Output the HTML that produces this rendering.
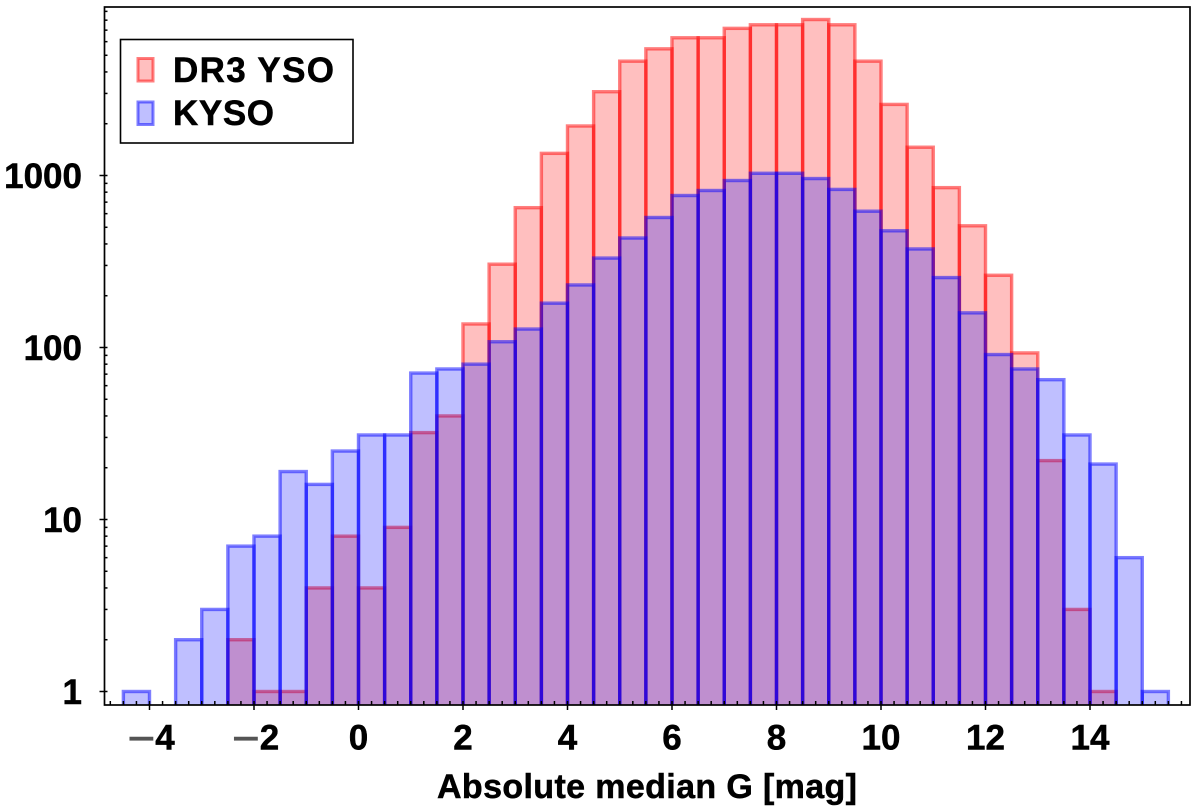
<!DOCTYPE html>
<html>
<head>
<meta charset="utf-8">
<title>Absolute median G histogram</title>
<style>
html,body{margin:0;padding:0;background:#fff;width:1200px;height:812px;overflow:hidden}
svg{display:block;filter:blur(0.35px)}
text{font-family:"Liberation Sans",sans-serif;font-weight:bold;fill:#000;stroke:#000;stroke-width:0.5px}
</style>
</head>
<body>
<svg id="chart" xmlns="http://www.w3.org/2000/svg" width="1200" height="812" viewBox="0 0 1200 812">
  <defs><clipPath id="plot-clip"><rect x="104.5" y="7" width="1085.5" height="698"/></clipPath></defs>
  <g id="bars" clip-path="url(#plot-clip)"></g>
  <g id="ticks"></g>
  <rect x="104.5" y="7" width="1085.5" height="698" fill="none" stroke="#000" stroke-width="1.7"/>
  <g id="tick-labels"></g>
  <text x="437" y="798" font-size="34" textLength="420" lengthAdjust="spacing">Absolute median G [mag]</text>
  <g>
    <rect x="120.5" y="39.5" width="232.5" height="103.5" fill="#fff" stroke="#000" stroke-width="1.6"/>
    <rect x="138" y="58.5" width="15" height="22.5" fill="#ff0000" fill-opacity="0.25" stroke="#ff0000" stroke-opacity="0.5" stroke-width="3"/>
    <text x="173" y="82" font-size="35" textLength="161" lengthAdjust="spacing">DR3 YSO</text>
    <rect x="138" y="102" width="15" height="22.5" fill="#0000ff" fill-opacity="0.25" stroke="#0000ff" stroke-opacity="0.5" stroke-width="3"/>
    <text x="173" y="125" font-size="35" textLength="101" lengthAdjust="spacing">KYSO</text>
  </g>
</svg>
<script>
var binStarts = [-4.5,-4,-3.5,-3,-2.5,-2,-1.5,-1,-0.5,0,0.5,1,1.5,2,2.5,3,3.5,4,4.5,5,5.5,6,6.5,7,7.5,8,8.5,9,9.5,10,10.5,11,11.5,12,12.5,13,13.5,14,14.5,15];
var binWidth = 0.5;
var dr3Yso = [0,0,0,0,2,1,1,4,8,4,9,32,40,137,305,650,1345,1940,3070,4620,5450,6320,6320,7170,7520,7520,8070,7520,4620,2590,1460,850,510,263,93,22,3,1,0,0];
var kyso = [1,0,2,3,7,8,19,16,25,31,31,71,75,80,108,128,181,231,331,433,570,765,818,935,1030,1030,960,830,620,477,374,255,159,91,75,65,31,21,6,1];
var xMajorTicks = [-4,-2,0,2,4,6,8,10,12,14];
var yMajorTicks = [1,10,100,1000];
var yMinorMultipliers = [2,3,4,5,6,7,8,9];

var NS = 'http://www.w3.org/2000/svg';
function xScale(v){ return 358.5 + v * 52.25; }
function yScale(v){ return 175.5 + (3 - Math.log10(v)) * 172; }
var AXIS_BOTTOM = 705, AXIS_LEFT = 104.5, AXIS_TOP = 7, AXIS_RIGHT = 1190;

function make(tag, attrs, parent){
  var el = document.createElementNS(NS, tag);
  for (var k in attrs) el.setAttribute(k, attrs[k]);
  parent.appendChild(el);
  return el;
}

var barsG = document.getElementById('bars');
function drawSeries(values, color, seriesName){
  values.forEach(function(v, i){
    if (!(v > 0)) return;
    var x0 = xScale(binStarts[i]), x1 = xScale(binStarts[i] + binWidth), y = yScale(v);
    var r = make('rect', {x:x0, y:y, width:x1 - x0, height:AXIS_BOTTOM + 6 - y, fill:color, 'fill-opacity':0.25, stroke:color, 'stroke-opacity':0.5, 'stroke-width':3.4}, barsG);
    
    
  });
}
drawSeries(dr3Yso, '#ff0000', 'dr3-yso');
drawSeries(kyso, '#0000ff', 'kyso');

var ticksG = document.getElementById('ticks');
var labelsG = document.getElementById('tick-labels');
function tick(x1, y1, x2, y2, name){
  var t = make('line', {x1:x1, y1:y1, x2:x2, y2:y2, stroke:'#000', 'stroke-width':1.5}, ticksG);
  
  
}
for (var q = -19; q <= 63; q++){
  var xv = q * 0.25;
  if (xMajorTicks.indexOf(xv) >= 0) continue;
  if (xScale(xv) <= AXIS_LEFT || xScale(xv) >= AXIS_RIGHT) continue;
  tick(xScale(xv), AXIS_BOTTOM, xScale(xv), AXIS_BOTTOM - 4, 'x-minor-tick');
}
xMajorTicks.forEach(function(v){
  tick(xScale(v), AXIS_BOTTOM + 5, xScale(v), AXIS_BOTTOM - 4, 'x-major-tick');
  var l = make('text', {x:xScale(v) + (v < 0 ? 1.5 : 0), y:749.5, 'font-size':35, 'text-anchor':'middle'}, labelsG);
  
  
  if (v < 0) {
    var m = make('tspan', {'font-size':48, dy:5, style:'font-weight:normal;fill:#555;stroke:#555'}, l);
    m.textContent = '\u2212';
    var d = make('tspan', {dy:-5}, l);
    d.textContent = String(-v);
  } else {
    l.textContent = String(v);
  }
});
yMajorTicks.forEach(function(v){
  tick(AXIS_LEFT - 5, yScale(v), AXIS_LEFT + 3, yScale(v), 'y-major-tick');
  var l = make('text', {x:82, y:yScale(v) + 12.5, 'font-size':35, 'text-anchor':'end'}, labelsG);
  
  
  l.textContent = String(v);
  yMinorMultipliers.forEach(function(m){
    var yy = yScale(v * m);
    if (yy > AXIS_TOP + 1) tick(AXIS_LEFT, yy, AXIS_LEFT + 3, yy, 'y-minor-tick');
  });
});
</script>
</body>
</html>
